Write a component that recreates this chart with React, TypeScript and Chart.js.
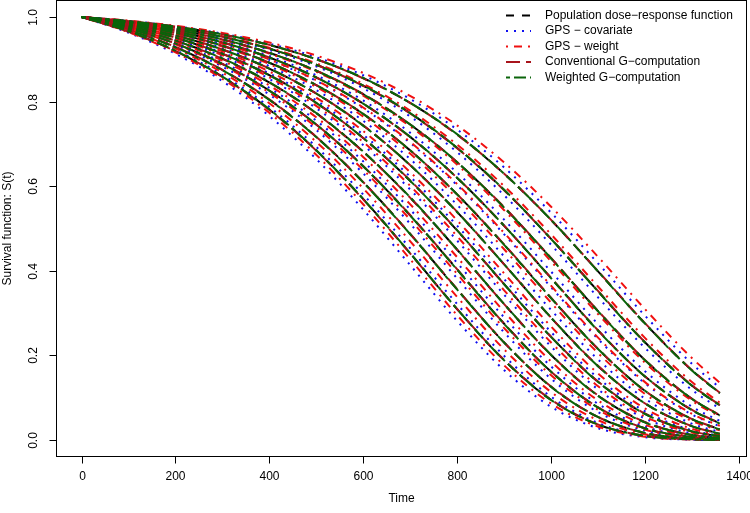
import { useEffect, useRef } from "react";
import { Chart, registerables } from "chart.js";

Chart.register(...registerables);

// Time grid (days)
const times = [0, 100, 200, 300, 400, 500, 600, 700, 800, 900, 1000, 1100, 1200, 1300, 1360];

// Population dose-response function (one row per dose level, lowest to highest curve)
const popResponse = [
  [1, 0.9654, 0.9193, 0.8587, 0.7811, 0.6847, 0.57, 0.4418, 0.3098, 0.1892, 0.0953, 0.0367, 0.0097, 0.0015, 0.0004],
  [1, 0.9695, 0.9286, 0.8746, 0.8047, 0.7166, 0.6099, 0.4874, 0.3567, 0.2311, 0.1264, 0.0546, 0.017, 0.0033, 0.0009],
  [1, 0.9731, 0.9369, 0.8888, 0.826, 0.7459, 0.6472, 0.5313, 0.4038, 0.2756, 0.1621, 0.0774, 0.0277, 0.0066, 0.0022],
  [1, 0.9763, 0.9443, 0.9015, 0.8452, 0.7727, 0.682, 0.5733, 0.4503, 0.3218, 0.2017, 0.1053, 0.0426, 0.0121, 0.0046],
  [1, 0.9791, 0.9508, 0.9128, 0.8625, 0.797, 0.7141, 0.613, 0.4957, 0.3689, 0.2446, 0.1381, 0.0623, 0.0206, 0.0087],
  [1, 0.9816, 0.9566, 0.9229, 0.8779, 0.819, 0.7436, 0.6501, 0.5393, 0.4159, 0.2897, 0.1752, 0.087, 0.0329, 0.0154],
  [1, 0.9838, 0.9617, 0.9318, 0.8918, 0.839, 0.7706, 0.6847, 0.5809, 0.4622, 0.3362, 0.216, 0.1168, 0.0496, 0.0255],
  [1, 0.9857, 0.9663, 0.9398, 0.9042, 0.8569, 0.7951, 0.7166, 0.6201, 0.5071, 0.3833, 0.2597, 0.1511, 0.0712, 0.0396],
  [1, 0.9874, 0.9703, 0.9468, 0.9152, 0.8729, 0.8174, 0.7459, 0.6568, 0.5503, 0.4302, 0.3055, 0.1897, 0.0978, 0.0584],
  [1, 0.989, 0.9738, 0.9531, 0.925, 0.8873, 0.8374, 0.7727, 0.6908, 0.5913, 0.4761, 0.3523, 0.2317, 0.1294, 0.0822],
  [1, 0.9903, 0.9769, 0.9586, 0.9337, 0.9002, 0.8555, 0.797, 0.7223, 0.6298, 0.5206, 0.3994, 0.2763, 0.1654, 0.111],
];

// GPS - covariate
const gpsCovariate = [
  [1, 0.9627, 0.9131, 0.8483, 0.7658, 0.6643, 0.5449, 0.4138, 0.2821, 0.1656, 0.079, 0.0282, 0.0067, 0.0009, 0.0002],
  [1, 0.9665, 0.9218, 0.863, 0.7874, 0.6931, 0.5805, 0.4536, 0.3218, 0.1996, 0.1028, 0.0408, 0.0113, 0.0019, 0.0004],
  [1, 0.9715, 0.9332, 0.8825, 0.8166, 0.7329, 0.6305, 0.5115, 0.3824, 0.2551, 0.1453, 0.0664, 0.0223, 0.0049, 0.0015],
  [1, 0.9742, 0.9394, 0.8931, 0.8325, 0.755, 0.6589, 0.5453, 0.4191, 0.2906, 0.1746, 0.086, 0.0321, 0.0081, 0.0028],
  [1, 0.9777, 0.9475, 0.907, 0.8536, 0.7844, 0.6975, 0.5924, 0.4719, 0.344, 0.2216, 0.1202, 0.0513, 0.0157, 0.0062],
  [1, 0.9798, 0.9524, 0.9155, 0.8665, 0.8028, 0.7219, 0.6227, 0.507, 0.381, 0.2559, 0.1472, 0.0682, 0.0234, 0.0101],
  [1, 0.9825, 0.9587, 0.9266, 0.8837, 0.8273, 0.7547, 0.6643, 0.5562, 0.4345, 0.3081, 0.1911, 0.0984, 0.039, 0.019],
  [1, 0.9849, 0.9643, 0.9363, 0.8988, 0.849, 0.7842, 0.7024, 0.6026, 0.4869, 0.3619, 0.2395, 0.1349, 0.0608, 0.0326],
  [1, 0.9863, 0.9677, 0.9422, 0.9079, 0.8623, 0.8027, 0.7265, 0.6324, 0.5215, 0.3988, 0.2746, 0.1633, 0.0793, 0.0452],
  [1, 0.9886, 0.9728, 0.9513, 0.9221, 0.8831, 0.8315, 0.7648, 0.6807, 0.579, 0.4622, 0.3379, 0.2185, 0.1192, 0.0744],
  [1, 0.9908, 0.978, 0.9606, 0.9369, 0.9049, 0.8622, 0.8061, 0.7341, 0.6445, 0.5379, 0.4182, 0.2947, 0.181, 0.1239],
];

// GPS - weight
const gpsWeight = [
  [1, 0.964, 0.9162, 0.8535, 0.7734, 0.6744, 0.5573, 0.4276, 0.2956, 0.177, 0.0867, 0.0322, 0.0081, 0.0012, 0.0003],
  [1, 0.968, 0.9252, 0.8688, 0.796, 0.7048, 0.595, 0.4702, 0.3388, 0.2148, 0.114, 0.0472, 0.0139, 0.0025, 0.0006],
  [1, 0.9723, 0.9351, 0.8857, 0.8213, 0.7394, 0.6388, 0.5213, 0.393, 0.2651, 0.1535, 0.0717, 0.0249, 0.0057, 0.0018],
  [1, 0.9751, 0.9416, 0.8968, 0.8381, 0.7628, 0.6691, 0.5576, 0.4327, 0.3041, 0.1862, 0.0941, 0.0364, 0.0097, 0.0035],
  [1, 0.9783, 0.9489, 0.9095, 0.8574, 0.7898, 0.7045, 0.6011, 0.482, 0.3545, 0.2312, 0.1276, 0.0558, 0.0176, 0.0072],
  [1, 0.9805, 0.9541, 0.9185, 0.8711, 0.8092, 0.7305, 0.6335, 0.5197, 0.3946, 0.2689, 0.1578, 0.0751, 0.0268, 0.012],
  [1, 0.9833, 0.9606, 0.9298, 0.8887, 0.8346, 0.7646, 0.677, 0.5715, 0.4516, 0.3254, 0.2063, 0.1095, 0.0453, 0.0228],
  [1, 0.985, 0.9646, 0.9369, 0.8997, 0.8503, 0.786, 0.7048, 0.6055, 0.4902, 0.3654, 0.2428, 0.1375, 0.0624, 0.0337],
  [1, 0.9872, 0.9697, 0.9458, 0.9136, 0.8705, 0.8141, 0.7415, 0.6513, 0.5438, 0.423, 0.2983, 0.1835, 0.0934, 0.0552],
  [1, 0.9893, 0.9746, 0.9545, 0.9272, 0.8905, 0.8419, 0.7787, 0.6985, 0.6007, 0.4868, 0.3635, 0.2421, 0.1376, 0.0886],
  [1, 0.9912, 0.979, 0.9623, 0.9395, 0.9088, 0.8676, 0.8134, 0.7438, 0.6566, 0.5521, 0.4338, 0.3102, 0.1945, 0.1353],
];

// Conventional G-computation
const convGcomp = [
  [1, 0.965, 0.919, 0.858, 0.78, 0.684, 0.569, 0.441, 0.31, 0.19, 0.096, 0.037, 0.01, 0.002, 0.001],
  [1, 0.97, 0.929, 0.875, 0.805, 0.717, 0.61, 0.488, 0.357, 0.231, 0.127, 0.055, 0.017, 0.003, 0.001],
  [1, 0.973, 0.937, 0.889, 0.826, 0.746, 0.648, 0.532, 0.404, 0.276, 0.162, 0.078, 0.028, 0.007, 0.002],
  [1, 0.976, 0.944, 0.901, 0.845, 0.772, 0.681, 0.573, 0.45, 0.322, 0.202, 0.106, 0.043, 0.012, 0.005],
  [1, 0.979, 0.951, 0.913, 0.863, 0.797, 0.714, 0.614, 0.496, 0.369, 0.245, 0.139, 0.063, 0.021, 0.009],
  [1, 0.982, 0.957, 0.923, 0.878, 0.819, 0.744, 0.65, 0.54, 0.416, 0.29, 0.176, 0.087, 0.033, 0.015],
  [1, 0.984, 0.962, 0.932, 0.892, 0.839, 0.771, 0.685, 0.581, 0.463, 0.337, 0.216, 0.117, 0.05, 0.026],
  [1, 0.986, 0.966, 0.94, 0.904, 0.857, 0.795, 0.716, 0.62, 0.507, 0.384, 0.26, 0.151, 0.072, 0.04],
  [1, 0.987, 0.97, 0.947, 0.915, 0.873, 0.818, 0.746, 0.657, 0.551, 0.431, 0.306, 0.19, 0.098, 0.059],
  [1, 0.989, 0.974, 0.953, 0.925, 0.887, 0.837, 0.772, 0.69, 0.591, 0.476, 0.353, 0.232, 0.13, 0.083],
  [1, 0.99, 0.977, 0.959, 0.934, 0.9, 0.855, 0.797, 0.722, 0.63, 0.521, 0.4, 0.277, 0.166, 0.112],
];

// Weighted G-computation
const weightedGcomp = [
  [1, 0.966, 0.92, 0.859, 0.782, 0.685, 0.57, 0.442, 0.31, 0.189, 0.095, 0.037, 0.01, 0.002, 0.0],
  [1, 0.969, 0.928, 0.874, 0.804, 0.716, 0.609, 0.487, 0.356, 0.231, 0.126, 0.055, 0.017, 0.003, 0.001],
  [1, 0.973, 0.937, 0.889, 0.826, 0.746, 0.647, 0.531, 0.403, 0.275, 0.162, 0.077, 0.028, 0.007, 0.002],
  [1, 0.976, 0.944, 0.902, 0.846, 0.773, 0.682, 0.574, 0.451, 0.322, 0.202, 0.105, 0.042, 0.012, 0.005],
  [1, 0.979, 0.951, 0.913, 0.862, 0.797, 0.714, 0.613, 0.496, 0.369, 0.244, 0.138, 0.062, 0.021, 0.009],
  [1, 0.982, 0.956, 0.923, 0.878, 0.819, 0.743, 0.65, 0.539, 0.416, 0.29, 0.175, 0.087, 0.033, 0.015],
  [1, 0.984, 0.962, 0.932, 0.892, 0.839, 0.771, 0.685, 0.581, 0.462, 0.336, 0.216, 0.117, 0.05, 0.025],
  [1, 0.986, 0.966, 0.94, 0.904, 0.857, 0.795, 0.717, 0.62, 0.507, 0.383, 0.259, 0.151, 0.071, 0.039],
  [1, 0.987, 0.97, 0.947, 0.915, 0.873, 0.817, 0.746, 0.657, 0.55, 0.43, 0.305, 0.189, 0.098, 0.058],
  [1, 0.989, 0.974, 0.953, 0.925, 0.887, 0.838, 0.773, 0.691, 0.592, 0.476, 0.352, 0.231, 0.129, 0.082],
  [1, 0.99, 0.977, 0.959, 0.934, 0.9, 0.856, 0.797, 0.723, 0.63, 0.521, 0.399, 0.276, 0.165, 0.111],
];

const xTicks = [0, 200, 400, 600, 800, 1000, 1200, 1400];
const yTicks = [0, 0.2, 0.4, 0.6, 0.8, 1.0];
const yTickLabels = ["0.0", "0.2", "0.4", "0.6", "0.8", "1.0"];

const legendLabels = [
  "Population dose\u2212response function",
  "GPS \u2212 covariate",
  "GPS \u2212 weight",
  "Conventional G\u2212computation",
  "Weighted G\u2212computation",
];

const FONT = '"Liberation Sans", Arial, Helvetica, sans-serif';

const methods = [
  { key: "pop", data: popResponse, color: "#000000", dash: [8, 8], legend: 0 },
  { key: "cov", data: gpsCovariate, color: "#1010F0", dash: [2, 6], legend: 1 },
  { key: "wt", data: gpsWeight, color: "#F01010", dash: [2, 6, 8, 6], legend: 2 },
  { key: "conv", data: convGcomp, color: "#A8141C", dash: [14, 6], legend: 3 },
  { key: "wg", data: weightedGcomp, color: "#0A640A", dash: [4, 4, 12, 4], legend: 4 },
];

const rAxesPlugin = {
  id: "rAxes",
  afterDraw(chart: any) {
    const { ctx, chartArea, scales } = chart;
    const xs = scales.x;
    const ys = scales.y;
    ctx.save();
    ctx.strokeStyle = "#000";
    ctx.fillStyle = "#000";
    ctx.lineWidth = 1;
    ctx.setLineDash([]);
    // box
    ctx.strokeRect(
      Math.round(chartArea.left) + 0.5,
      Math.round(chartArea.top) + 0.5,
      Math.round(chartArea.right - chartArea.left) - 1,
      Math.round(chartArea.bottom - chartArea.top) - 1
    );
    const bottom = Math.round(chartArea.bottom) - 0.5;
    const left = Math.round(chartArea.left) + 0.5;
    ctx.font = `12px ${FONT}`;
    // x ticks
    ctx.textAlign = "center";
    ctx.textBaseline = "middle";
    xTicks.forEach((v) => {
      const px = Math.round(xs.getPixelForValue(v)) + 0.5;
      ctx.beginPath();
      ctx.moveTo(px, bottom);
      ctx.lineTo(px, bottom + 7);
      ctx.stroke();
      ctx.fillText(String(v), px, bottom + 20);
    });
    // y ticks
    yTicks.forEach((v, i) => {
      const py = Math.round(ys.getPixelForValue(v)) + 0.5;
      ctx.beginPath();
      ctx.moveTo(left, py);
      ctx.lineTo(left - 7, py);
      ctx.stroke();
      ctx.save();
      ctx.translate(34, py);
      ctx.rotate(-Math.PI / 2);
      ctx.fillText(yTickLabels[i], 0, 0);
      ctx.restore();
    });
    // axis titles
    ctx.fillText("Time", (chartArea.left + chartArea.right) / 2, 499);
    ctx.save();
    ctx.translate(8, (chartArea.top + chartArea.bottom) / 2);
    ctx.rotate(-Math.PI / 2);
    ctx.fillText("Survival function: S(t)", 0, 0);
    ctx.restore();
    // legend
    ctx.textAlign = "left";
    methods.forEach((m) => {
      const y = 15.5 + m.legend * 15.5;
      ctx.beginPath();
      ctx.strokeStyle = m.color;
      ctx.lineWidth = 2;
      ctx.setLineDash(m.dash);
      ctx.moveTo(506, y);
      ctx.lineTo(531, y);
      ctx.stroke();
      ctx.setLineDash([]);
      ctx.fillStyle = "#000";
      ctx.fillText(legendLabels[m.legend], 545, y);
    });
    ctx.restore();
  },
};

export default function App() {
  const canvasRef = useRef<HTMLCanvasElement | null>(null);

  useEffect(() => {
    document.body.style.margin = "0";
    const canvas = canvasRef.current;
    if (!canvas) return;

    const drawOrder = ["wg", "conv", "wt", "cov", "pop"];
    const datasets: any[] = [];
    drawOrder.forEach((k) => {
      const m = methods.find((mm) => mm.key === k)!;
      m.data.forEach((row) => {
        datasets.push({
          label: legendLabels[m.legend],
          data: row.map((v, i) => ({ x: times[i], y: v })),
          borderColor: m.color,
          borderWidth: 2,
          borderDash: m.dash,
          borderCapStyle: "butt",
          pointRadius: 0,
          fill: false,
          cubicInterpolationMode: "monotone",
        });
      });
    });

    const chart = new Chart(canvas, {
      type: "line",
      data: { datasets },
      options: {
        animation: false,
        responsive: false,
        devicePixelRatio: 1,
        layout: { padding: { left: 56, right: 3, top: 0, bottom: 56 } },
        plugins: { legend: { display: false }, tooltip: { enabled: false } },
        events: [],
        scales: {
          x: { type: "linear", min: -54.5, max: 1418, display: false },
          y: { type: "linear", min: -0.04, max: 1.04, display: false },
        },
      },
      plugins: [rAxesPlugin],
    });
    return () => chart.destroy();
  }, []);

  return <canvas ref={canvasRef} width={750} height={513} style={{ display: "block" }} />;
}
